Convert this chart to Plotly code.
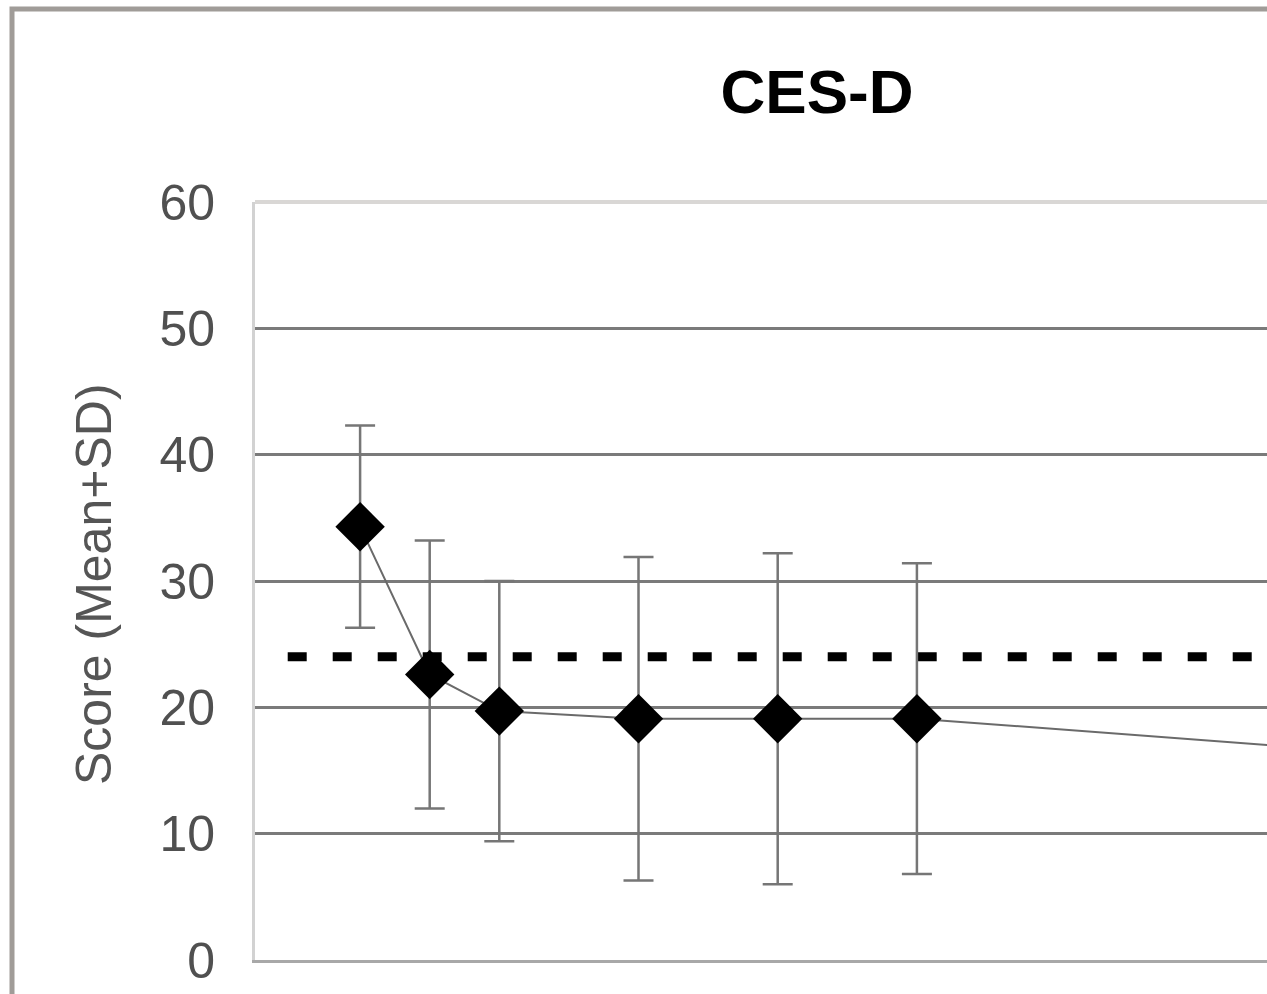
import plotly.graph_objects as go

# Data
weeks = [0, 1, 2, 4, 6, 8, 16]
mean_scores = [34.3, 22.6, 19.7, 19.1, 19.1, 19.1, 15.8]
sd_scores = [8.0, 10.6, 10.3, 12.8, 13.1, 12.3, 11.0]
cutoff = 24
cutoff_start = -1.04
y_ticks = [0, 10, 20, 30, 40, 50, 60]

W, H = 1267, 994
L, T, B, R = 255, 202, 34, 0
pw, ph = W - L - R, H - T - B

fig = go.Figure()

# dashed cutoff line
fig.add_trace(go.Scatter(
    x=[cutoff_start, 40], y=[cutoff, cutoff], mode="lines",
    line=dict(color="black", width=9, dash="19px,26px"),
    hoverinfo="skip", showlegend=False))

# mean +/- SD series
fig.add_trace(go.Scatter(
    x=weeks, y=mean_scores, mode="lines+markers",
    line=dict(color="#6a6a6a", width=2),
    marker=dict(symbol="diamond", size=38, color="black"),
    error_y=dict(type="data", array=sd_scores, visible=True,
                 color="#767676", thickness=2.5, width=15),
    showlegend=False))

fig.update_layout(
    width=W, height=H,
    margin=dict(l=L, r=R, t=T, b=B),
    paper_bgcolor="white", plot_bgcolor="white",
    font=dict(family="Liberation Sans, Arial, sans-serif"),
    title=dict(text="<b>CES-D</b>", x=817 / W, xref="container", xanchor="center",
               y=1 - 91 / H, yref="container", yanchor="middle",
               font=dict(size=62, color="black", family="Liberation Sans, Arial, sans-serif")),
    xaxis=dict(range=[-1.51, 13.03], showticklabels=False, ticks="",
               showgrid=False, zeroline=False,
               showline=True, linecolor="#a8a8a8", linewidth=3),
    yaxis=dict(range=[0, 60], tickvals=y_ticks, ticks="",
               ticklabelstandoff=27,
               tickfont=dict(size=50, color="#505050"),
               showgrid=True, gridcolor="#7a7a7a", gridwidth=2.5,
               zeroline=False,
               showline=True, linecolor="#d2d2d2", linewidth=3),
    annotations=[dict(text="Score (Mean+SD)", textangle=-90,
                      xref="paper", yref="paper",
                      x=(94 - L) / pw, y=(960 - 584) / ph,
                      xanchor="center", yanchor="middle", showarrow=False,
                      font=dict(size=50, color="#555555"))],
    shapes=[
        # top border of plot area (light)
        dict(type="line", xref="paper", yref="paper", x0=0, x1=1, y0=1, y1=1,
             line=dict(color="#d9d7d5", width=4), layer="above"),
        # outer frame of chart
        dict(type="rect", xref="paper", yref="paper",
             x0=(12 - L) / pw, x1=1.3, y0=-0.3, y1=(960 - 9) / ph,
             line=dict(color="#a09c98", width=5), layer="above"),
    ],
)

fig.write_html("out.html", config={"displayModeBar": False},
               post_script="document.body.style.margin='0';document.body.style.overflow='hidden';")
